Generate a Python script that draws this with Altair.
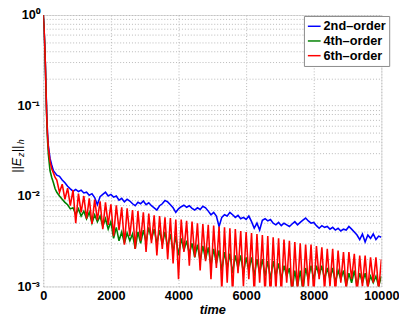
import altair as alt
import pandas as pd

series_names = ["2nd\u2013order", "4th\u2013order", "6th\u2013order"]
series_colors = ["#0000ff", "#008000", "#ff0000"]

head_time = [0, 20, 40, 60, 80, 100, 125, 150, 200, 250, 300, 350]
body_time = list(range(400, 10001, 80))

blue_head = [1.0, 0.75, 0.5, 0.3, 0.16, 0.085, 0.05, 0.036, 0.026, 0.022, 0.019, 0.018]
green_head = [1.0, 0.75, 0.5, 0.29, 0.15, 0.075, 0.042, 0.029, 0.019, 0.016, 0.014, 0.012]
red_head = [1.0, 0.75, 0.5, 0.3, 0.155, 0.08, 0.047, 0.034, 0.024, 0.020, 0.018, 0.016]

blue_body = [
    0.0170, 0.0165, 0.0150, 0.0140, 0.0128, 0.0120, 0.0113, 0.0118, 0.0112, 0.0116,
    0.0108, 0.0110, 0.0102, 0.0106, 0.0096, 0.0080, 0.0098, 0.0104, 0.0110, 0.0100,
    0.0104, 0.0097, 0.0100, 0.0090, 0.0094, 0.0086, 0.0092, 0.0088, 0.0082, 0.0078,
    0.0085, 0.0082, 0.0088, 0.0080, 0.0084, 0.0078, 0.0074, 0.0070, 0.0078, 0.0082,
    0.0089, 0.0086, 0.0080, 0.0074, 0.0066, 0.0072, 0.0076, 0.0079, 0.0075, 0.0078,
    0.0073, 0.0070, 0.0074, 0.0071, 0.0077, 0.0074, 0.0068, 0.0062, 0.0066, 0.0060,
    0.0046, 0.0058, 0.0062, 0.0060, 0.0066, 0.0062, 0.0058, 0.0061, 0.0056, 0.0058,
    0.0055, 0.0060, 0.0052, 0.0044, 0.0050, 0.0042, 0.0054, 0.0056, 0.0053, 0.0055,
    0.0050, 0.0048, 0.0051, 0.0047, 0.0050, 0.0048, 0.0046, 0.0049, 0.0052, 0.0048,
    0.0051, 0.0054, 0.0057, 0.0053, 0.0050, 0.0051, 0.0047, 0.0044, 0.0047, 0.0045,
    0.0046, 0.0043, 0.0045, 0.0042, 0.0044, 0.0041, 0.0043, 0.0042, 0.0046, 0.0043,
    0.0040, 0.0037, 0.0033, 0.0038, 0.0031, 0.0037, 0.0034, 0.0038, 0.0033, 0.0036,
    0.0035,
]

green_body = [
    0.0110, 0.0100, 0.0092, 0.0085, 0.0080, 0.0072, 0.0074, 0.0062, 0.0072, 0.0060,
    0.0068, 0.0056, 0.0066, 0.0050, 0.0062, 0.0052, 0.0060, 0.0046, 0.0056, 0.0043,
    0.0052, 0.0034, 0.0045, 0.0032, 0.0040, 0.0030, 0.0039, 0.0032, 0.0038, 0.0026,
    0.0040, 0.0030, 0.0042, 0.0031, 0.0045, 0.0033, 0.0043, 0.0030, 0.0042, 0.0029,
    0.0040, 0.0027, 0.0038, 0.0024, 0.0036, 0.0022, 0.0034, 0.0025, 0.0032, 0.0023,
    0.0030, 0.0021, 0.0029, 0.0019, 0.0028, 0.0020, 0.0027, 0.0017, 0.0026, 0.0018,
    0.0025, 0.0015, 0.0024, 0.0016, 0.0023, 0.0014, 0.0022, 0.0016, 0.0022, 0.0014,
    0.0021, 0.0015, 0.0021, 0.0013, 0.0020, 0.0014, 0.0020, 0.0013, 0.0019, 0.0012,
    0.0019, 0.0013, 0.0018, 0.0012, 0.0017, 0.0013, 0.0016, 0.0009, 0.0015, 0.0010,
    0.0015, 0.0009, 0.0016, 0.0012, 0.0017, 0.0012, 0.0017, 0.0013, 0.0017, 0.0012,
    0.0016, 0.0012, 0.0016, 0.0011, 0.0015, 0.0012, 0.0015, 0.0010, 0.0014, 0.0011,
    0.0015, 0.0010, 0.0014, 0.0011, 0.0014, 0.0010, 0.0013, 0.0011, 0.0013, 0.0010,
    0.0013,
]

red_body = [
    0.0150, 0.0110, 0.0135, 0.0092, 0.0122, 0.0078, 0.0116, 0.0050, 0.0106, 0.0066,
    0.0100, 0.0056, 0.0094, 0.0049, 0.0091, 0.0054, 0.0087, 0.0043, 0.0085, 0.0048,
    0.0081, 0.0036, 0.0079, 0.0042, 0.0075, 0.0029, 0.0073, 0.0036, 0.0070, 0.0026,
    0.0068, 0.0032, 0.0066, 0.0024, 0.0064, 0.0030, 0.0061, 0.0022, 0.0060, 0.0026,
    0.0058, 0.0020, 0.0057, 0.0018, 0.0055, 0.0012, 0.0055, 0.0024, 0.0053, 0.0017,
    0.0052, 0.0021, 0.0050, 0.0015, 0.0049, 0.0019, 0.0048, 0.0012, 0.0047, 0.0016,
    0.0046, 0.0009, 0.0045, 0.0011, 0.0044, 0.0008, 0.0043, 0.0014, 0.0041, 0.0010,
    0.0040, 0.0012, 0.0039, 0.0008, 0.0038, 0.0011, 0.0037, 0.0008, 0.0036, 0.0007,
    0.0035, 0.0009, 0.0034, 0.0008, 0.0033, 0.0011, 0.0032, 0.0007, 0.0031, 0.0009,
    0.0030, 0.0008, 0.0029, 0.0010, 0.0029, 0.0008, 0.0028, 0.0012, 0.0027, 0.0009,
    0.0026, 0.0010, 0.0026, 0.0008, 0.0025, 0.0011, 0.0024, 0.0009, 0.0024, 0.0012,
    0.0023, 0.0008, 0.0022, 0.0010, 0.0022, 0.0009, 0.0021, 0.0011, 0.0021, 0.0009,
    0.0020,
]

assert len(blue_body) == len(body_time)
assert len(green_body) == len(body_time)
assert len(red_body) == len(body_time)

x_ticks = [0, 2000, 4000, 6000, 8000, 10000]
y_grid = [m * 10.0 ** e for e in (-3, -2, -1) for m in range(1, 10)] + [1.0]
y_labels = {1.0: "10\u2070", 0.1: "10\u207b\u00b9", 0.01: "10\u207b\u00b2", 0.001: "10\u207b\u00b3"}

rows = []
for name, head, body in zip(series_names,
                            [blue_head, green_head, red_head],
                            [blue_body, green_body, red_body]):
    for t, v in zip(head_time + body_time, head + body):
        rows.append({"series": name, "time": t, "value": v, "ord": len(rows)})
df = pd.DataFrame(rows)

label_expr = " : ".join(
    f"abs(datum.value - {k}) < {k * 1e-3} ? '{s}'" for k, s in y_labels.items()
) + " : ''"

FONT = "Liberation Sans"

lines = alt.Chart(df).mark_line(clip=True, strokeWidth=1.6).encode(
    x=alt.X("time:Q",
            scale=alt.Scale(domain=[0, 10000], nice=False, zero=False),
            axis=alt.Axis(values=x_ticks, format="d", title="time", grid=True,
                          gridDash=[1, 2], gridColor="#b8b8b8", ticks=False,
                          domain=False, labelFlush=False, labelFont=FONT,
                          labelFontSize=13, labelFontWeight="bold",
                          labelColor="black", labelPadding=3, titleFont=FONT,
                          titleFontSize=13, titleFontWeight="bold",
                          titleFontStyle="italic", titleColor="black",
                          titlePadding=2)),
    y=alt.Y("value:Q",
            scale=alt.Scale(type="log", domain=[0.001, 1], nice=False),
            axis=alt.Axis(values=y_grid, labelExpr=label_expr, title=None,
                          grid=True, gridDash=[1, 2], gridColor="#b8b8b8",
                          ticks=False, domain=False, labelFlush=False,
                          labelFont=FONT, labelFontSize=13,
                          labelFontWeight="bold", labelColor="black",
                          labelPadding=4)),
    color=alt.Color("series:N",
                    scale=alt.Scale(domain=series_names, range=series_colors),
                    legend=alt.Legend(title=None, orient="none", legendX=266,
                                      legendY=1, symbolType="stroke",
                                      symbolSize=169, symbolStrokeWidth=1.5,
                                      labelFont=FONT, labelFontSize=13,
                                      labelFontWeight="bold", labelColor="black",
                                      labelOffset=2, padding=3, rowPadding=0,
                                      fillColor="white", strokeColor="#888888")),
    order="ord:Q",
)

one = pd.DataFrame({"a": [0]})
title_parts = [
    ("||E", 13, -23, 161),
    ("z", 9, -20, 145),
    ("||", 13, -23, 140),
    ("h", 9, -20, 132),
]
texts = []
for txt, fs, xx, yy in title_parts:
    texts.append(
        alt.Chart(one).mark_text(text=txt, fontSize=fs, font=FONT,
                                 fontStyle="italic", angle=270, align="left",
                                 baseline="alphabetic", color="black").encode(
            x=alt.value(xx), y=alt.value(yy))
    )

chart = alt.layer(lines, *texts).properties(
    width=345, height=277,
    autosize=alt.AutoSizeParams(type="none"),
    padding={"left": 36, "top": 4, "right": 18, "bottom": 27},
).configure_view(stroke="#808080", strokeWidth=1).configure(background="white")

chart.save("out.html", embed_options={"renderer": "svg", "actions": False})
